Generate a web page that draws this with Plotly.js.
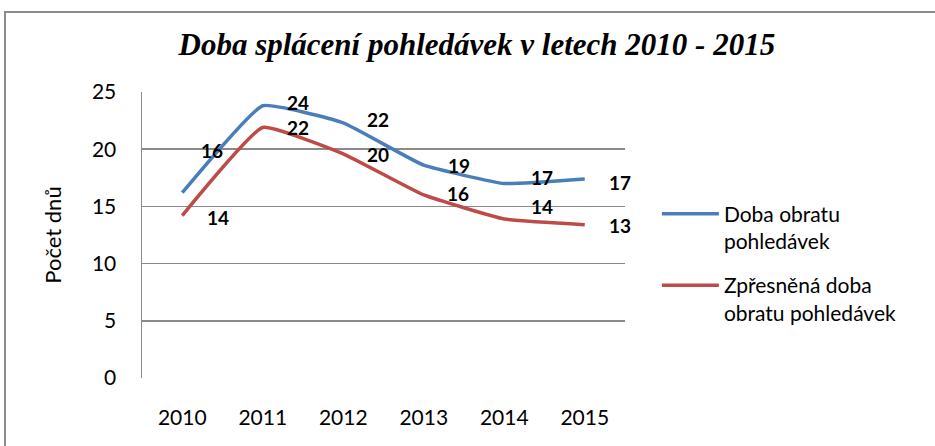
<!DOCTYPE html>
<html>
<head>
<meta charset="utf-8">
<script src="https://cdn.plot.ly/plotly-3.0.1.min.js"></script>
<style>
  html, body { margin: 0; padding: 0; background: #fff; }
  #chart { width: 935px; height: 446px; position: absolute; left: 0; top: 0; }
  #frame { position: absolute; left: 4px; top: 11px; width: 940px; height: 440px;
           border-top: 2px solid #8c8c8c; border-left: 2px solid #8c8c8c; pointer-events: none; }
</style>
</head>
<body>
<div id="chart"></div>
<div id="frame"></div>
<script>
const years = [2010, 2011, 2012, 2013, 2014, 2015];
const yearLabels = ['2010', '2011', '2012', '2013', '2014', '2015'];
const dobaObratu = [16.2, 23.8, 22.3, 18.6, 17.0, 17.4];
const zpresnenaDoba = [14.2, 21.9, 19.6, 16.0, 13.9, 13.4];
const seriesNames = ['Doba obratu<br>pohledávek', 'Zpřesněná doba<br>obratu pohledávek'];
const yTicks = [0, 5, 10, 15, 20, 25];

// label offsets (pixels) relative to each point
const blueShift = [[30, 42], [35, 3], [35, 3], [35, 0], [38, 6], [35, -4]];
const redShift = [[36, -2], [35, 0], [35, -1], [34, 1], [38, 12], [35, -1]];

const blue = '#4a7ebb';
const red = '#be4b48';

const traces = [
  { x: years, y: dobaObratu, name: seriesNames[0], legendgroup: 'g1', type: 'scatter', mode: 'lines',
    line: { color: blue, width: 3.5, shape: 'spline', smoothing: 0.35 } },
  { x: years, y: zpresnenaDoba, name: seriesNames[1], legendgroup: 'g2', type: 'scatter', mode: 'lines',
    line: { color: red, width: 3.5, shape: 'spline', smoothing: 0.35 } }
];

const annotations = [];
function addLabels(vals, shifts) {
  vals.forEach((v, i) => {
    annotations.push({
      x: years[i], y: v, xref: 'x', yref: 'y', text: String(Math.round(v)),
      showarrow: false, xshift: shifts[i][0], yshift: shifts[i][1],
      font: { family: 'Lato, "Open Sans", sans-serif', size: 19, color: '#000', weight: 'bold' }
    });
  });
}
addLabels(dobaObratu, blueShift);
addLabels(zpresnenaDoba, redShift);

const layout = {
  width: 935, height: 446,
  margin: { l: 142, r: 310, t: 92, b: 68 },
  paper_bgcolor: '#fff', plot_bgcolor: '#fff',
  title: { text: '<b><i>Doba splácení pohledávek v letech 2010 - 2015</i></b>',
    font: { family: '"Liberation Serif", "DejaVu Serif", serif', size: 31, color: '#000' },
    x: 0.51, xanchor: 'center', y: 0.9, yanchor: 'middle' },
  xaxis: { type: 'linear', range: [years[0] - 0.5, years[years.length - 1] + 0.5],
    tickvals: years, ticktext: yearLabels, showgrid: false, zeroline: false, showline: false,
    ticks: 'outside', ticklen: 21, tickcolor: 'rgba(0,0,0,0)',
    tickfont: { family: 'Lato, sans-serif', size: 21, color: '#000' } },
  yaxis: { range: [0, 25], tickvals: yTicks, showgrid: true, gridcolor: '#8a8a8a', gridwidth: 1.5,
    zeroline: false, showline: true, linecolor: '#8a8a8a', linewidth: 1.5,
    ticks: 'outside', ticklen: 20, tickcolor: 'rgba(0,0,0,0)',
    tickfont: { family: 'Lato, sans-serif', size: 21, color: '#000' },
    title: { text: 'Počet dnů', font: { family: 'Lato, sans-serif', size: 22, color: '#000' }, standoff: 24 } },
  legend: { x: 1.066, xanchor: 'left', y: 0.645, yanchor: 'top', valign: 'top',
    traceorder: 'grouped',
    font: { family: 'Lato, sans-serif', size: 21, color: '#000' },
    tracegroupgap: 14, itemwidth: 57, bgcolor: 'rgba(0,0,0,0)' },
  annotations: annotations,
  showlegend: true
};

Plotly.newPlot('chart', traces, layout, { displayModeBar: false, staticPlot: true });
</script>
</body>
</html>
